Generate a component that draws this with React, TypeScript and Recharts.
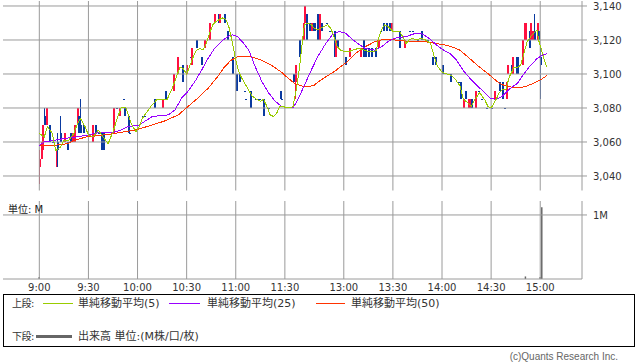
import React from "react";
import { ComposedChart, BarChart, Bar, Line, XAxis, YAxis, ReferenceLine } from "recharts";

// one slot per minute, 9:00 = slot 0, 13:00 = slot 186, 15:00 = slot 306
const SLOT_COUNT = 311;
const tickSlots = [0, 30, 60, 90, 120, 150, 186, 216, 246, 276, 306];
const tickLabels = ["9:00", "9:30", "10:00", "10:30", "11:00", "11:30", "13:00", "13:30", "14:00", "14:30", "15:00"];
const priceTicks = [3040, 3060, 3080, 3100, 3120, 3140];
const volumeTicks = [1];

const candleSlots = [
  0, 1, 2, 3, 4, 6, 8, 10, 11, 13,
  15, 17, 19, 20, 21, 23, 24, 25, 27, 29,
  32, 34, 36, 38, 39, 45, 47, 49, 51, 52,
  54, 55, 59, 60, 63, 64, 70, 75, 77, 82,
  84, 87, 90, 92, 93, 96, 99, 101, 104, 107,
  109, 110, 113, 115, 118, 120, 122, 125, 126, 129,
  132, 133, 134, 137, 140, 147, 148, 155, 156, 159,
  161, 162, 163, 165, 166, 167, 168, 170, 171, 172,
  175, 177, 180, 181, 182, 187, 189, 196, 198, 199,
  201, 203, 205, 207, 208, 210, 212, 214, 215, 220,
  223, 226, 228, 231, 233, 237, 240, 242, 246, 249,
  251, 256, 257, 259, 260, 262, 263, 264, 266, 268,
  270, 273, 276, 278, 281, 283, 284, 285, 286, 288,
  289, 291, 292, 293, 295, 296, 297, 299, 300, 301,
  302, 304, 305, 306,
];
const opens = [
  3045, 3050, 3055, 3075, 3070, 3070, 3060, 3045, 3060, 3065,
  3060, 3060, 3065, 3060, 3060, 3070, 3075, 3070, 3070, 3065,
  3060, 3070, 3065, 3065, 3065, 3065, 3080, 3075, 3085, 3080,
  3075, 3065, 3070, 3070, 3075, 3075, 3085, 3080, 3090, 3090,
  3100, 3105, 3100, 3110, 3105, 3120, 3110, 3115, 3120, 3130,
  3135, 3130, 3135, 3125, 3110, 3100, 3100, 3090, 3085, 3090,
  3085, 3085, 3085, 3085, 3080, 3090, 3085, 3100, 3095, 3120,
  3120, 3130, 3135, 3130, 3125, 3130, 3130, 3135, 3120, 3130,
  3130, 3125, 3125, 3110, 3120, 3110, 3110, 3110, 3120, 3115,
  3115, 3115, 3115, 3115, 3125, 3130, 3130, 3130, 3125, 3125,
  3115, 3125, 3125, 3120, 3125, 3120, 3110, 3110, 3105, 3100,
  3100, 3095, 3095, 3080, 3090, 3080, 3080, 3085, 3080, 3090,
  3085, 3080, 3080, 3085, 3095, 3095, 3080, 3085, 3100, 3105,
  3100, 3110, 3110, 3105, 3105, 3120, 3120, 3125, 3120, 3120,
  3125, 3120, 3125, 3110,
];
const highs = [
  3055, 3060, 3070, 3080, 3080, 3070, 3060, 3055, 3065, 3075,
  3065, 3060, 3065, 3065, 3070, 3080, 3075, 3085, 3070, 3065,
  3070, 3070, 3065, 3065, 3065, 3080, 3080, 3080, 3085, 3080,
  3075, 3065, 3070, 3070, 3075, 3075, 3085, 3085, 3090, 3100,
  3110, 3105, 3105, 3110, 3115, 3120, 3110, 3120, 3130, 3135,
  3135, 3135, 3135, 3125, 3110, 3100, 3100, 3090, 3085, 3090,
  3085, 3085, 3085, 3085, 3080, 3090, 3085, 3100, 3105, 3120,
  3130, 3140, 3135, 3130, 3130, 3130, 3130, 3135, 3135, 3130,
  3130, 3125, 3125, 3120, 3120, 3110, 3115, 3115, 3120, 3115,
  3115, 3115, 3115, 3120, 3125, 3130, 3130, 3130, 3130, 3125,
  3120, 3125, 3125, 3120, 3125, 3120, 3110, 3110, 3105, 3100,
  3100, 3095, 3095, 3085, 3090, 3085, 3085, 3085, 3090, 3090,
  3085, 3080, 3080, 3090, 3095, 3095, 3080, 3095, 3105, 3105,
  3110, 3110, 3110, 3105, 3120, 3130, 3130, 3125, 3130, 3125,
  3135, 3130, 3125, 3115,
];
const lows = [
  3035, 3050, 3055, 3070, 3070, 3060, 3060, 3045, 3045, 3060,
  3060, 3055, 3060, 3060, 3060, 3070, 3065, 3065, 3065, 3065,
  3060, 3065, 3065, 3055, 3055, 3065, 3080, 3075, 3085, 3075,
  3065, 3065, 3070, 3070, 3075, 3075, 3080, 3080, 3085, 3090,
  3100, 3095, 3100, 3110, 3105, 3115, 3105, 3115, 3120, 3130,
  3130, 3130, 3130, 3120, 3100, 3090, 3095, 3090, 3085, 3080,
  3085, 3085, 3085, 3075, 3080, 3085, 3085, 3095, 3085, 3110,
  3120, 3130, 3120, 3125, 3125, 3125, 3125, 3120, 3120, 3125,
  3130, 3125, 3110, 3110, 3115, 3105, 3110, 3110, 3110, 3110,
  3110, 3110, 3110, 3115, 3125, 3125, 3125, 3125, 3125, 3115,
  3115, 3125, 3125, 3120, 3120, 3120, 3105, 3105, 3100, 3100,
  3095, 3095, 3085, 3080, 3085, 3080, 3080, 3080, 3080, 3090,
  3085, 3080, 3080, 3085, 3090, 3085, 3080, 3085, 3100, 3100,
  3100, 3100, 3100, 3105, 3105, 3120, 3120, 3115, 3120, 3120,
  3120, 3120, 3120, 3085,
];
const closes = [
  3050, 3060, 3070, 3070, 3080, 3060, 3060, 3055, 3055, 3060,
  3065, 3055, 3060, 3065, 3070, 3080, 3065, 3065, 3065, 3065,
  3070, 3065, 3065, 3055, 3055, 3080, 3080, 3080, 3085, 3075,
  3065, 3065, 3070, 3070, 3075, 3075, 3080, 3085, 3085, 3100,
  3110, 3095, 3105, 3110, 3115, 3115, 3105, 3120, 3130, 3135,
  3130, 3135, 3130, 3120, 3100, 3090, 3095, 3090, 3085, 3080,
  3085, 3085, 3085, 3075, 3080, 3085, 3085, 3095, 3105, 3110,
  3130, 3140, 3120, 3125, 3130, 3125, 3125, 3120, 3135, 3125,
  3130, 3125, 3110, 3120, 3115, 3105, 3115, 3115, 3110, 3110,
  3110, 3110, 3110, 3120, 3125, 3125, 3125, 3125, 3130, 3115,
  3120, 3125, 3125, 3120, 3120, 3120, 3105, 3105, 3100, 3100,
  3095, 3095, 3085, 3085, 3085, 3085, 3085, 3080, 3090, 3090,
  3085, 3080, 3080, 3090, 3090, 3085, 3080, 3095, 3105, 3100,
  3110, 3100, 3100, 3105, 3120, 3130, 3130, 3115, 3130, 3125,
  3120, 3130, 3120, 3105,
];

// moving averages: [slot, price]
const ma5Points: [number, number][] = [
  [0, 3065], [3, 3063], [5, 3069], [8, 3065], [10, 3055], [13, 3057], [15, 3061], [18, 3061], [21, 3065],
  [23, 3070], [25, 3074], [28, 3069], [30, 3064], [33, 3063], [36, 3067], [39, 3063], [42, 3059], [45, 3066],
  [48, 3075], [50, 3080], [53, 3080], [56, 3071], [59, 3066], [61, 3069], [63, 3074], [66, 3078], [69, 3082],
  [72, 3085], [75, 3085], [78, 3085], [81, 3091], [84, 3099], [86, 3104], [88, 3103], [90, 3100], [92, 3105],
  [94, 3110], [96, 3114], [98, 3115], [100, 3114], [102, 3118], [104, 3124], [106, 3129], [108, 3131],
  [110, 3132], [112, 3133], [114, 3132], [116, 3127], [118, 3118], [120, 3108], [122, 3101], [124, 3097],
  [127, 3092], [130, 3087], [133, 3085], [135, 3084], [137, 3085], [139, 3081], [141, 3076], [143, 3075],
  [145, 3077], [147, 3081], [149, 3081], [151, 3080], [153, 3080], [155, 3081], [157, 3091], [159, 3104],
  [161, 3122], [162, 3129], [164, 3130], [166, 3129], [168, 3127], [170, 3126], [172, 3127], [176, 3129],
  [178, 3127], [180, 3122], [182, 3116], [184, 3114], [187, 3113], [189, 3113], [191, 3114], [195, 3115],
  [199, 3114], [201, 3113], [204, 3113], [206, 3114], [207, 3120], [209, 3126], [211, 3129], [213, 3128],
  [216, 3125], [220, 3125], [222, 3122], [224, 3118], [226, 3120], [228, 3121], [230, 3120], [233, 3121],
  [236, 3120], [239, 3118], [241, 3111], [243, 3105], [246, 3101], [249, 3100], [252, 3099], [254, 3097],
  [257, 3093], [259, 3085], [262, 3083], [264, 3081], [266, 3085], [269, 3089], [272, 3085], [274, 3081],
  [276, 3080], [279, 3085], [281, 3089], [283, 3091], [285, 3091], [287, 3098], [290, 3104], [292, 3104],
  [294, 3105], [296, 3112], [298, 3119], [301, 3123], [304, 3126], [305, 3120], [308, 3110], [310, 3104],
];
const ma25Points: [number, number][] = [
  [0, 3058], [3, 3060], [9, 3061], [15, 3062], [23, 3063], [29, 3064], [36, 3065.5], [44, 3065.5], [50, 3067],
  [54, 3069], [61, 3070], [69, 3075], [79, 3076], [83, 3079], [87, 3086], [91, 3090], [95, 3095.5], [99, 3102],
  [103, 3109], [107, 3115], [111, 3119], [115, 3122], [118, 3123], [121, 3122], [124, 3119], [128, 3114],
  [132, 3104], [136, 3095.5], [140, 3089], [144, 3084], [148, 3081], [152, 3080], [155, 3080], [158, 3085],
  [162, 3093.5], [166, 3102], [170, 3110], [175, 3118], [179, 3123], [183, 3125], [187, 3124], [193, 3119],
  [199, 3115], [205, 3114], [209, 3116], [213, 3119], [217, 3121], [224, 3122], [230, 3124], [234, 3123.5],
  [238, 3121], [244, 3116], [247, 3114], [251, 3112], [255, 3108], [259, 3102], [263, 3097.5], [267, 3093.5],
  [271, 3090], [275, 3086], [279, 3085], [283, 3087], [287, 3091], [292, 3094.5], [296, 3100], [300, 3105],
  [304, 3109], [307, 3111], [310, 3112],
];
const ma50Points: [number, number][] = [
  [0, 3058], [9, 3058], [17, 3059], [23, 3061.5], [29, 3063], [38, 3064], [46, 3065], [52, 3066], [58, 3067],
  [62, 3068], [69, 3070], [77, 3072.5], [85, 3076], [91, 3081], [97, 3086], [103, 3091.5], [109, 3098.5],
  [113, 3104], [117, 3108], [121, 3110], [124, 3110.5], [130, 3110], [136, 3108], [142, 3105], [148, 3101],
  [152, 3097.5], [156, 3094.5], [160, 3093], [164, 3092.5], [168, 3093.5], [172, 3096.5], [177, 3099.5],
  [181, 3102], [185, 3105], [188, 3107], [193, 3112], [199, 3116], [205, 3119], [209, 3120], [217, 3120],
  [228, 3119], [236, 3119], [242, 3118], [248, 3117], [252, 3116], [257, 3114], [263, 3109], [269, 3104],
  [275, 3099.5], [281, 3094.5], [285, 3093], [290, 3092], [294, 3092], [298, 3093], [302, 3094.5],
  [306, 3096.5], [310, 3099],
];

// volume in millions
const volumeSlots = [0, 297, 306, 307];
const volumeValues = [0.03, 0.04, 0.03, 1.12];

const PRICE_MIN = 3031.47;
const PRICE_MAX = 3142.94;
const VOLUME_MAX = 1.218;

const FONT = '"DejaVu Sans", "Noto Sans CJK JP", sans-serif';
const GRID = "#9a9a9a";
const UP = "#ff1040";
const DOWN = "#0a3aa0";
const X_PAD = { left: 35.5, right: 34.4 };

type Row = {
  i: number;
  o?: number;
  h?: number;
  l?: number;
  c?: number;
  range?: [number, number];
  ma5?: number;
  ma25?: number;
  ma50?: number;
  vol?: number;
};

function buildRows(): Row[] {
  const rows: Row[] = Array.from({ length: SLOT_COUNT }, (_, i) => ({ i }));
  candleSlots.forEach((s, k) => {
    Object.assign(rows[s], {
      o: opens[k],
      h: highs[k],
      l: lows[k],
      c: closes[k],
      range: [lows[k], highs[k]],
    });
  });
  ma5Points.forEach(([s, v]) => (rows[s].ma5 = v));
  ma25Points.forEach(([s, v]) => (rows[s].ma25 = v));
  ma50Points.forEach(([s, v]) => (rows[s].ma50 = v));
  volumeSlots.forEach((s, k) => (rows[s].vol = volumeValues[k]));
  return rows;
}

const rows = buildRows();

function Candle(props: any) {
  const { x, y, width, height, payload } = props;
  if (!payload || payload.o == null) return null;
  const { o, h, l, c } = payload;
  const top = Math.min(y, y + height);
  const span = Math.abs(height);
  const cx = Math.round(x + width / 2);
  const py = (p: number) => (h === l ? top : top + ((h - p) / (h - l)) * span);
  const color = c > o ? UP : DOWN;
  const bodyTop = py(Math.max(o, c));
  const bodyBottom = py(Math.min(o, c));
  return (
    <g shapeRendering="crispEdges">
      <line x1={cx + 0.5} x2={cx + 0.5} y1={top} y2={top + span} stroke={color} strokeWidth={1} />
      <rect x={cx - 0.5} y={bodyTop} width={2} height={Math.max(1, bodyBottom - bodyTop)} fill={color} />
    </g>
  );
}

const tickStyle = { fill: "#333", fontSize: 10, fontFamily: FONT };

function PriceChart() {
  return (
    <ComposedChart width={638} height={192} data={rows} margin={{ top: 1, right: 0, bottom: 1.5, left: 3 }}>
      <XAxis dataKey="i" type="category" padding={X_PAD} tick={false} tickLine={false} height={0} axisLine={{ stroke: GRID }} />
      <XAxis xAxisId="top" orientation="top" dataKey="i" type="category" padding={X_PAD} tick={false} tickLine={false} height={0} axisLine={{ stroke: GRID }} />
      <YAxis
        orientation="right"
        type="number"
        domain={[PRICE_MIN, PRICE_MAX]}
        allowDataOverflow
        ticks={priceTicks}
        interval={0}
        width={56}
        tickFormatter={(v: number) => v.toLocaleString("en-US")}
        tick={tickStyle}
        tickSize={5}
        tickMargin={6}
        tickLine={{ stroke: GRID }}
        axisLine={{ stroke: GRID }}
      />
      <YAxis yAxisId="frame" orientation="left" type="number" domain={[PRICE_MIN, PRICE_MAX]} width={0} tick={false} tickLine={false} axisLine={{ stroke: GRID }} />
      {priceTicks.map((p) => (
        <ReferenceLine key={"p" + p} y={p} stroke={GRID} />
      ))}
      {tickSlots.map((s) => (
        <ReferenceLine key={"t" + s} x={s} stroke={GRID} />
      ))}
      <Bar dataKey="range" shape={Candle} isAnimationActive={false} />
      <Line dataKey="ma50" stroke="#ff3300" strokeWidth={1} dot={false} connectNulls isAnimationActive={false} shapeRendering="crispEdges" />
      <Line dataKey="ma25" stroke="#9900ff" strokeWidth={1} dot={false} connectNulls isAnimationActive={false} shapeRendering="crispEdges" />
      <Line dataKey="ma5" stroke="#99cc00" strokeWidth={1} dot={false} connectNulls isAnimationActive={false} shapeRendering="crispEdges" />
    </ComposedChart>
  );
}

function VolumeChart() {
  return (
    <BarChart width={638} height={101} data={rows} margin={{ top: 6, right: 0, bottom: 0, left: 3 }}>
      <XAxis
        dataKey="i"
        type="category"
        padding={X_PAD}
        ticks={tickSlots}
        interval={0}
        tickFormatter={(v: number) => tickLabels[tickSlots.indexOf(v)]}
        tick={tickStyle}
        tickLine={false}
        tickSize={3}
        tickMargin={2}
        height={17}
        axisLine={{ stroke: GRID }}
      />
      <XAxis xAxisId="top" orientation="top" dataKey="i" type="category" padding={X_PAD} tick={false} tickLine={false} height={0} axisLine={{ stroke: GRID }} />
      <YAxis
        orientation="right"
        type="number"
        domain={[0, VOLUME_MAX]}
        allowDataOverflow
        ticks={volumeTicks}
        interval={0}
        width={56}
        tickFormatter={() => "1M"}
        tick={tickStyle}
        tickSize={5}
        tickMargin={6}
        tickLine={{ stroke: GRID }}
        axisLine={{ stroke: GRID }}
      />
      <YAxis yAxisId="frame" orientation="left" type="number" domain={[0, VOLUME_MAX]} width={0} tick={false} tickLine={false} axisLine={{ stroke: GRID }} />
      {volumeTicks.map((v) => (
        <ReferenceLine key={"v" + v} y={v} stroke={GRID} />
      ))}
      {tickSlots.map((s) => (
        <ReferenceLine key={"t" + s} x={s} stroke={GRID} />
      ))}
      <Bar dataKey="vol" fill="#666" barSize={3} isAnimationActive={false} />
    </BarChart>
  );
}

const legendText: React.CSSProperties = {
  position: "absolute",
  fontSize: 11,
  lineHeight: "13px",
  color: "#333",
  whiteSpace: "nowrap",
};
const sectionText: React.CSSProperties = { ...legendText, fontSize: 10, letterSpacing: -0.5 };

export default function App() {
  return (
    <div style={{ position: "absolute", left: 0, top: 0, width: 638, height: 362, background: "#fff", fontFamily: FONT }}>
      <div style={{ position: "absolute", left: 0, top: 0 }}>
        <PriceChart />
      </div>
      <div style={{ position: "absolute", left: 0, top: 195 }}>
        <VolumeChart />
      </div>
      <div style={{ position: "absolute", left: 8, top: 204, fontSize: 10, lineHeight: "12px", color: "#222" }}>単位: M</div>

      <div style={{ position: "absolute", left: 3, top: 294, width: 632, height: 53, border: "1px solid #000", boxSizing: "border-box" }} />
      <div style={{ ...sectionText, left: 12, top: 297 }}>上段:</div>
      <div style={{ position: "absolute", left: 43, top: 303, width: 30, height: 1, background: "#99cc00" }} />
      <div style={{ ...legendText, left: 78, top: 297 }}>単純移動平均(5)</div>
      <div style={{ position: "absolute", left: 169, top: 303, width: 31, height: 1, background: "#9900ff" }} />
      <div style={{ ...legendText, left: 207, top: 297 }}>単純移動平均(25)</div>
      <div style={{ position: "absolute", left: 316, top: 303, width: 29, height: 1, background: "#ff3300" }} />
      <div style={{ ...legendText, left: 351, top: 297 }}>単純移動平均(50)</div>
      <div style={{ ...sectionText, left: 12, top: 330 }}>下段:</div>
      <div style={{ position: "absolute", left: 36, top: 335, width: 36, height: 3, background: "#666" }} />
      <div style={{ ...legendText, left: 78, top: 330 }}>出来高 単位:(M株/口/枚)</div>

      <div style={{ position: "absolute", right: 20, top: 351, fontSize: 10, lineHeight: "12px", color: "#666", fontFamily: '"Liberation Sans", sans-serif' }}>
        (c)Quants Research Inc.
      </div>
    </div>
  );
}
